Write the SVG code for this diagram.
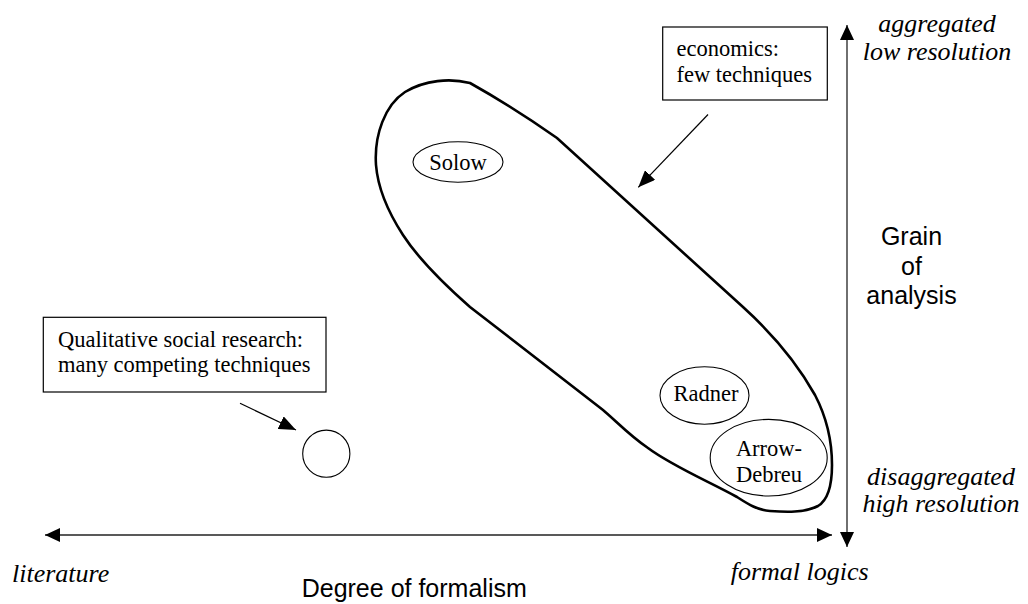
<svg xmlns="http://www.w3.org/2000/svg" width="1028" height="604" viewBox="0 0 1028 604">
<style>
.ser{font-family:"Liberation Serif","Times New Roman",serif;font-size:22.5px;fill:#000}
.it{font-family:"Liberation Serif","Times New Roman",serif;font-size:26px;font-style:italic;fill:#000}
.sans{font-family:"Liberation Sans",Arial,sans-serif;font-size:25px;fill:#000}
.box{fill:#fff;stroke:#000;stroke-width:1.2}
.ell{fill:#fff;stroke:#000;stroke-width:1.1}
.axis{stroke:#222;stroke-width:1.3;fill:none}
.call{stroke:#000;stroke-width:1.2;fill:none}
</style>
<defs>
<marker id="ah" markerUnits="userSpaceOnUse" markerWidth="16" markerHeight="14" refX="15" refY="7" orient="auto-start-reverse" viewBox="0 0 16 14">
<path d="M0,0 L15,7 L0,14 Z" fill="#000"/>
</marker>
<marker id="ch" markerUnits="userSpaceOnUse" markerWidth="18" markerHeight="14" refX="17" refY="7" orient="auto" viewBox="0 0 18 14">
<path d="M0,0 L17,7 L0,14 Z" fill="#000"/>
</marker>
</defs>
<rect width="1028" height="604" fill="#fff"/>
<g id="region-economics">
<path d="M470,83 C495,97 520,112 557,138 L743,307 C775,336 800,368 815,395 C828,420 832,445 832,465 C832,485 828,500 818,506 C805,513 785,512 770,511 C757,510 748,504 737,497 C710,482 672,466 648,448 C630,436 615,420 603,410 L470,307 C445,285 418,258 403,235 C390,215 378,190 376,165 C374,135 385,105 405,92 C425,80 450,78 470,83 Z" fill="none" stroke="#000" stroke-width="2.6"/>
</g>
<g id="solow">
<ellipse class="ell" cx="458" cy="162" rx="45" ry="20.3"/>
<text class="ser" x="458" y="170" text-anchor="middle">Solow</text>
</g>
<g id="radner">
<ellipse class="ell" cx="704.5" cy="395.5" rx="44.5" ry="28.7"/>
<text class="ser" x="706" y="401" text-anchor="middle">Radner</text>
</g>
<g id="arrow-debreu">
<ellipse class="ell" cx="768.7" cy="457.7" rx="58.5" ry="38.3"/>
<text class="ser" x="769" y="456" text-anchor="middle">Arrow-</text>
<text class="ser" x="769" y="482" text-anchor="middle">Debreu</text>
</g>
<g id="qualitative-circle">
<circle class="ell" cx="326.3" cy="453.7" r="23.6"/>
</g>
<g id="economics-box">
<rect class="box" x="662.7" y="27" width="164.6" height="73"/>
<text class="ser" x="676.5" y="55.5">economics:</text>
<text class="ser" x="676.5" y="81.5">few techniques</text>
</g>
<g id="qualitative-box">
<rect class="box" x="43.3" y="317.3" width="282.7" height="74.7"/>
<text class="ser" x="58" y="346.7">Qualitative social research:</text>
<text class="ser" x="58" y="371.7">many competing techniques</text>
</g>
<g id="connectors">
<line class="call" x1="708" y1="114.5" x2="638.3" y2="187.3" marker-end="url(#ch)"/>
<line class="call" x1="240" y1="403.3" x2="296" y2="430" marker-end="url(#ch)"/>
<line class="axis" x1="45" y1="535" x2="832" y2="535" marker-start="url(#ah)" marker-end="url(#ah)"/>
<line class="axis" x1="847" y1="547" x2="847" y2="25" marker-start="url(#ah)" marker-end="url(#ah)"/>
</g>
<g id="axis-labels">
<text class="it" x="937" y="31.7" text-anchor="middle">aggregated</text>
<text class="it" x="937" y="59.5" text-anchor="middle">low resolution</text>
<text class="it" x="941" y="484.5" text-anchor="middle">disaggregated</text>
<text class="it" x="941" y="512" text-anchor="middle">high resolution</text>
<text class="sans" x="911.5" y="245" text-anchor="middle">Grain</text>
<text class="sans" x="911.5" y="275" text-anchor="middle">of</text>
<text class="sans" x="911.5" y="304" text-anchor="middle">analysis</text>
<text class="it" x="12" y="581.5">literature</text>
<text class="it" x="730.7" y="580">formal logics</text>
<text class="sans" x="301.7" y="597.3">Degree of formalism</text>
</g>
</svg>
